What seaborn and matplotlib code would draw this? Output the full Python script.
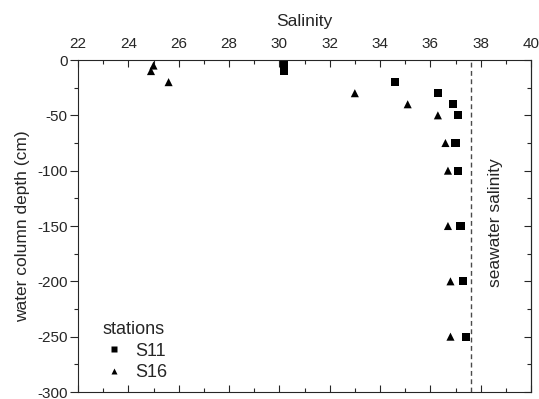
import matplotlib
matplotlib.use("Agg")
import matplotlib.pyplot as plt
import seaborn as sns
import pandas as pd
from matplotlib.ticker import MultipleLocator

# data
s11_salinity = [30.2, 30.2, 34.6, 36.3, 36.9, 37.1, 37.0, 37.1, 37.2, 37.3, 37.4]
s11_depth    = [-5, -10, -20, -30, -40, -50, -75, -100, -150, -200, -250]
s16_salinity = [25.0, 24.9, 25.6, 33.0, 35.1, 36.3, 36.6, 36.7, 36.7, 36.8, 36.8]
s16_depth    = [-5, -10, -20, -30, -40, -50, -75, -100, -150, -200, -250]
stations = ["S11", "S16"]
seawater_salinity = 37.6

df = pd.concat([
    pd.DataFrame({"salinity": s11_salinity, "depth": s11_depth, "station": stations[0]}),
    pd.DataFrame({"salinity": s16_salinity, "depth": s16_depth, "station": stations[1]}),
])

sns.set_style("ticks")
plt.rcParams["font.family"] = ["Liberation Sans", "DejaVu Sans"]
plt.rcParams["axes.unicode_minus"] = False

fig = plt.figure(figsize=(5.39, 3.99), dpi=100)
ax = fig.add_axes([78/539, 1-392/399, (531-78)/539, (392-60)/399])

sns.scatterplot(data=df, x="salinity", y="depth", style="station",
                markers={"S11": "s", "S16": "^"}, color="black",
                s=34, edgecolor="none", ax=ax, legend=True)

ax.axvline(seawater_salinity, color="#4a4a4a", linestyle=(0, (3.5, 2.5)), linewidth=1.0)
ax.text(seawater_salinity + 1.0, -147, "seawater salinity", rotation=90,
        ha="center", va="center", fontsize=12.5)

ax.set_xlim(22, 40)
ax.set_ylim(-300, 0)
ax.xaxis.set_major_locator(MultipleLocator(2))
ax.xaxis.set_minor_locator(MultipleLocator(1))
ax.yaxis.set_major_locator(MultipleLocator(50))
ax.yaxis.set_minor_locator(MultipleLocator(25))

ax.xaxis.set_label_position("top")
ax.xaxis.tick_top()
ax.tick_params(axis="x", which="both", top=True, bottom=True, labeltop=True,
               labelbottom=False, direction="in", labelsize=11, pad=6.5)
ax.tick_params(axis="x", which="major", length=5, width=0.8)
ax.tick_params(axis="x", which="minor", length=3, width=0.8)
ax.yaxis.set_ticks_position("left")
ax.tick_params(axis="y", which="both", direction="out", labelsize=11, pad=2)
ax.tick_params(axis="y", which="major", length=5.5, width=0.8)
ax.tick_params(axis="y", which="minor", length=3, width=0.8)
ax2 = ax.secondary_yaxis("right")
ax2.yaxis.set_major_locator(MultipleLocator(50))
ax2.yaxis.set_minor_locator(MultipleLocator(25))
ax2.tick_params(axis="y", which="both", direction="in", labelright=False)
ax2.tick_params(axis="y", which="major", length=5, width=0.8)
ax2.tick_params(axis="y", which="minor", length=3, width=0.8)
ax2.spines["right"].set_linewidth(0.8)

ax.set_xlabel("Salinity", fontsize=12.5, labelpad=8)
ax.set_ylabel("water column depth (cm)", fontsize=12.5, labelpad=5)

for sp in ax.spines.values():
    sp.set_linewidth(0.8)
    sp.set_visible(True)

handles, labels = ax.get_legend_handles_labels()
leg = ax.legend(handles, labels, title="stations", loc="lower left",
                bbox_to_anchor=(0.03, 0.0), frameon=False, fontsize=13,
                title_fontsize=13, handletextpad=0.5, handlelength=1.3,
                labelspacing=0.25, borderaxespad=0.2, markerscale=0.8)
leg._legend_box.align = "left"

fig.savefig("out.png", dpi=100)
